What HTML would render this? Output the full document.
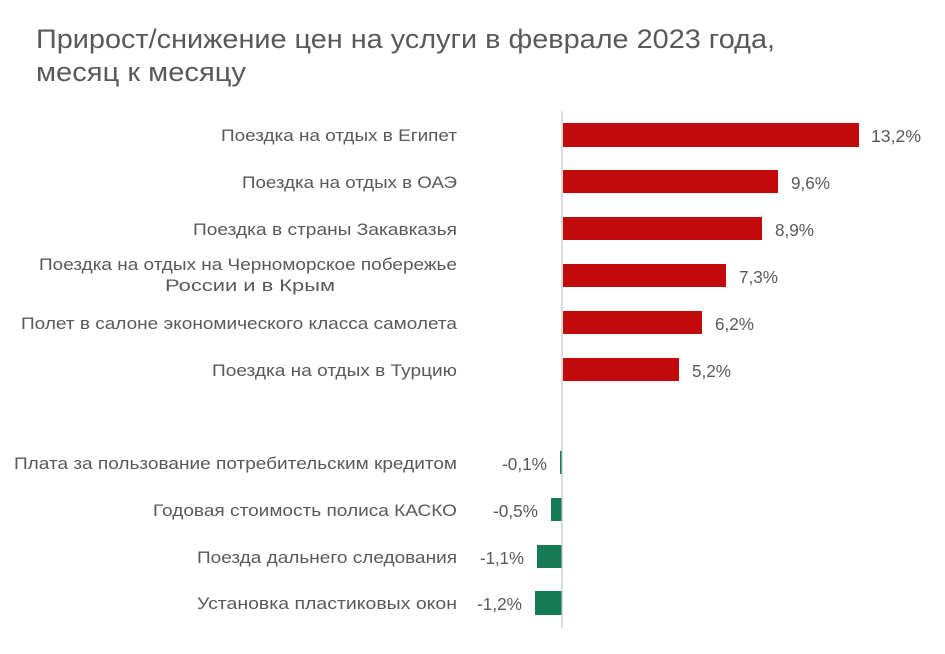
<!DOCTYPE html><html><head><meta charset="utf-8"><style>body{margin:0;background:#fff}</style></head><body>
<svg width="945" height="649" xmlns="http://www.w3.org/2000/svg" font-family="Liberation Sans, sans-serif">
<text x="36" y="48" font-size="27" fill="#595959" textLength="739" lengthAdjust="spacingAndGlyphs">Прирост/снижение цен на услуги в феврале 2023 года,</text>
<text x="36" y="81" font-size="27" fill="#595959" textLength="210" lengthAdjust="spacingAndGlyphs">месяц к месяцу</text>
<line x1="562" y1="111" x2="562" y2="628" stroke="#d0d0d0" stroke-width="1.5"/>
<g fill="#c00a0c">
<rect x="563" y="123" width="296" height="24"/>
<rect x="563" y="170" width="215" height="23"/>
<rect x="563" y="217" width="199" height="23"/>
<rect x="563" y="264" width="163" height="23"/>
<rect x="563" y="311" width="139" height="23"/>
<rect x="563" y="358" width="116" height="23"/>
</g>
<g fill="#167a55">
<rect x="560" y="451" width="1.5" height="23"/>
<rect x="551" y="498" width="10.5" height="23"/>
<rect x="537" y="545" width="24.5" height="23"/>
<rect x="535" y="591" width="26.5" height="24"/>
</g>
<g font-size="17.5" fill="#595959">
<text x="871" y="142" textLength="50" lengthAdjust="spacingAndGlyphs">13,2%</text>
<text x="791" y="189" textLength="39" lengthAdjust="spacingAndGlyphs">9,6%</text>
<text x="775" y="236" textLength="39" lengthAdjust="spacingAndGlyphs">8,9%</text>
<text x="739" y="283" textLength="39" lengthAdjust="spacingAndGlyphs">7,3%</text>
<text x="715" y="330" textLength="39" lengthAdjust="spacingAndGlyphs">6,2%</text>
<text x="692" y="377" textLength="39" lengthAdjust="spacingAndGlyphs">5,2%</text>
<text x="502" y="470" textLength="45" lengthAdjust="spacingAndGlyphs">-0,1%</text>
<text x="493" y="517" textLength="45" lengthAdjust="spacingAndGlyphs">-0,5%</text>
<text x="480" y="564" textLength="44" lengthAdjust="spacingAndGlyphs">-1,1%</text>
<text x="477" y="610" textLength="45" lengthAdjust="spacingAndGlyphs">-1,2%</text>
</g>
<g font-size="17" fill="#595959">
<text x="221" y="141" textLength="236" lengthAdjust="spacingAndGlyphs">Поездка на отдых в Египет</text>
<text x="242" y="188" textLength="215" lengthAdjust="spacingAndGlyphs">Поездка на отдых в ОАЭ</text>
<text x="193" y="235" textLength="264" lengthAdjust="spacingAndGlyphs">Поездка в страны Закавказья</text>
<text x="39" y="270" textLength="418" lengthAdjust="spacingAndGlyphs">Поездка на отдых на Черноморское побережье</text>
<text x="165" y="291" textLength="170" lengthAdjust="spacingAndGlyphs">России и в Крым</text>
<text x="21" y="329" textLength="436" lengthAdjust="spacingAndGlyphs">Полет в салоне экономического класса самолета</text>
<text x="212" y="376" textLength="245" lengthAdjust="spacingAndGlyphs">Поездка на отдых в Турцию</text>
<text x="14" y="469" textLength="443" lengthAdjust="spacingAndGlyphs">Плата за пользование потребительским кредитом</text>
<text x="153" y="516" textLength="304" lengthAdjust="spacingAndGlyphs">Годовая стоимость полиса КАСКО</text>
<text x="197" y="563" textLength="260" lengthAdjust="spacingAndGlyphs">Поезда дальнего следования</text>
<text x="197" y="609" textLength="260" lengthAdjust="spacingAndGlyphs">Установка пластиковых окон</text>
</g>
</svg></body></html>
